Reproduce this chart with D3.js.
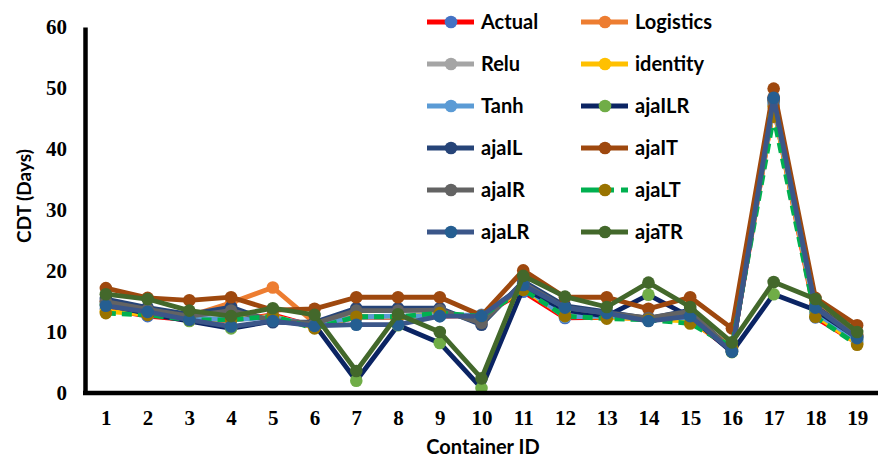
<!DOCTYPE html>
<html>
<head>
<meta charset="utf-8">
<script src="https://cdn.jsdelivr.net/npm/d3@7"></script>
<style>
  html, body { margin: 0; padding: 0; background: #fff; }
  svg { display: block; }
</style>
</head>
<body>
<svg id="chart" width="880" height="460"></svg>
<script>
const categories = ["1","2","3","4","5","6","7","8","9","10","11","12","13","14","15","16","17","18","19"];
const yTicks = [0, 10, 20, 30, 40, 50, 60];

const actual    = [13.8, 12.6, 12.0, 11.9, 12.8, 10.9, 12.4, 12.4, 12.6, 12.7, 16.6, 12.3, 12.4, 12.2, 12.0, 7.0, 47.0, 12.4, 8.2];
const logistics = [15.0, 13.6, 12.6, 14.8, 17.3, 11.5, 12.5, 12.5, 12.7, 12.7, 17.5, 13.0, 12.8, 12.3, 12.5, 7.5, 48.5, 14.6, 9.6];
const relu      = [14.5, 13.2, 12.2, 12.2, 12.5, 11.0, 12.4, 12.5, 12.7, 12.7, 17.2, 12.8, 12.6, 12.3, 12.3, 7.2, 47.8, 13.5, 8.8];
const identity  = [13.4, 12.9, 12.1, 12.0, 12.6, 10.7, 12.6, 12.5, 12.9, 12.6, 17.0, 12.6, 12.4, 12.1, 11.8, 7.4, 47.0, 12.8, 8.1];
const tanh      = [14.6, 13.1, 12.3, 12.0, 12.4, 11.1, 12.5, 12.6, 12.7, 12.8, 17.4, 12.5, 12.6, 12.3, 12.4, 7.1, 47.5, 13.2, 8.6];
const ajaILR    = [14.5, 13.0, 11.8, 10.6, 11.8, 11.2, 2.0, 11.1, 8.2, 0.8, 17.2, 13.6, 12.6, 16.1, 12.5, 6.7, 16.2, 13.6, 9.1];
const ajaIL     = [15.4, 14.0, 12.9, 14.1, 11.6, 11.6, 13.9, 13.9, 13.9, 11.2, 18.3, 14.3, 13.3, 12.2, 13.6, 6.8, 48.2, 14.2, 9.4];
const ajaIT     = [17.2, 15.6, 15.2, 15.7, 13.6, 13.8, 15.7, 15.7, 15.7, 12.7, 20.1, 15.7, 15.7, 13.8, 15.7, 10.6, 49.9, 15.6, 11.1];
const ajaIR     = [15.0, 13.7, 12.6, 13.5, 11.9, 11.4, 13.5, 13.5, 13.6, 11.5, 18.0, 14.0, 13.1, 12.3, 13.4, 6.9, 48.0, 14.0, 9.3];
const ajaLT     = [13.1, 12.8, 12.0, 12.0, 12.6, 10.6, 12.5, 12.5, 13.1, 12.6, 16.9, 12.6, 12.2, 12.0, 11.4, 7.6, 45.3, 12.5, 7.9];
const ajaLR     = [14.3, 13.3, 12.0, 10.9, 11.8, 11.0, 11.2, 11.2, 12.6, 12.6, 17.7, 14.0, 13.1, 11.8, 12.6, 6.8, 48.4, 14.0, 9.0];
const ajaTR     = [16.2, 15.4, 13.5, 12.6, 13.9, 12.8, 3.6, 12.9, 10.0, 2.4, 19.2, 15.8, 14.1, 18.1, 14.1, 8.3, 18.2, 15.4, 10.0];

const seriesNames = ["Actual","Logistics","Relu","identity","Tanh","ajaILR","ajaIL","ajaIT","ajaIR","ajaLT","ajaLR","ajaTR"];
const seriesValues = [actual, logistics, relu, identity, tanh, ajaILR, ajaIL, ajaIT, ajaIR, ajaLT, ajaLR, ajaTR];
const lineColors   = ["#FF0000","#ED7D31","#A5A5A5","#FFC000","#5B9BD5","#0B2463","#264478","#9E480E","#636363","#00B050","#3B5689","#43682B"];
const markerColors = ["#4472C4","#ED7D31","#A5A5A5","#FFC000","#5B9BD5","#70AD47","#264478","#9E480E","#636363","#997300","#255E91","#43682B"];
const dashes       = [null,null,null,null,null,null,null,null,null,"10,6",null,null];

const series = seriesNames.map((name, i) => ({
  name, values: seriesValues[i], line: lineColors[i], marker: markerColors[i], dash: dashes[i]
}));

const svg = d3.select("#chart");
const mLeft = 85, mRight = 878, mTop = 27, mBottom = 393;

const x = d3.scalePoint().domain(categories).range([mLeft, mRight]).padding(0.5);
const y = d3.scaleLinear().domain([0, 60]).range([mBottom, mTop]);

// Series
const lineGen = d3.line().x((d, i) => x(categories[i])).y(d => y(d));
const g = svg.append("g");
series.forEach(s => {
  g.append("path")
    .attr("d", lineGen(s.values))
    .attr("fill", "none")
    .attr("stroke", s.line)
    .attr("stroke-width", 4.8)
    .attr("stroke-linejoin", "round")
    .attr("stroke-dasharray", s.dash);
  g.selectAll(null).data(s.values).enter().append("circle")
    .attr("cx", (d, i) => x(categories[i]))
    .attr("cy", d => y(d))
    .attr("r", 6.3)
    .attr("fill", s.marker);
});

// Axes
const yAxis = d3.axisLeft(y).tickValues(yTicks).tickSize(0).tickSizeOuter(0).tickPadding(18);
const yg = svg.append("g").attr("transform", `translate(${mLeft},0)`).call(yAxis);
yg.select(".domain").attr("stroke", "#000").attr("stroke-width", 4.5);
yg.selectAll("text").attr("font-family", "'Liberation Serif', 'Times New Roman', serif")
  .attr("font-weight", "bold").attr("font-size", 21).attr("fill", "#000");

const xAxis = d3.axisBottom(x).tickSize(0).tickSizeOuter(0).tickPadding(17);
const xg = svg.append("g").attr("transform", `translate(0,${mBottom})`).call(xAxis);
xg.select(".domain").attr("stroke", "#000").attr("stroke-width", 4.5)
  .attr("d", `M${mLeft - 2},0H${mRight}`);
xg.selectAll("text").attr("font-family", "'Liberation Serif', 'Times New Roman', serif")
  .attr("font-weight", "bold").attr("font-size", 21).attr("fill", "#000");

// Axis titles
const sans = "Lato, 'Open Sans', sans-serif";
svg.append("text")
  .attr("transform", "translate(31,196) rotate(-90)")
  .attr("text-anchor", "middle")
  .attr("font-family", sans).attr("font-weight", "bold").attr("font-size", 19)
  .text("CDT (Days)");
svg.append("text")
  .attr("x", 483).attr("y", 454)
  .attr("text-anchor", "middle")
  .attr("font-family", sans).attr("font-weight", "bold").attr("font-size", 20)
  .text("Container ID");

// Legend
const legend = svg.append("g");
series.forEach((s, i) => {
  const col = i % 2, row = Math.floor(i / 2);
  const lx = col === 0 ? 427 : 581;
  const ly = 22 + row * 42;
  const item = legend.append("g").attr("transform", `translate(${lx},${ly})`);
  item.append("line").attr("x1", 0).attr("x2", 47).attr("y1", 0).attr("y2", 0)
    .attr("stroke", s.line).attr("stroke-width", 4.8)
    .attr("stroke-dasharray", s.dash ? "20,7,6,7,8" : null);
  item.append("circle").attr("cx", 24).attr("cy", 0).attr("r", 6.3).attr("fill", s.marker);
  item.append("text").attr("x", 54).attr("y", 7)
    .attr("font-family", sans).attr("font-weight", "bold").attr("font-size", 20)
    .attr("fill", "#000").text(s.name);
});
</script>
</body>
</html>
